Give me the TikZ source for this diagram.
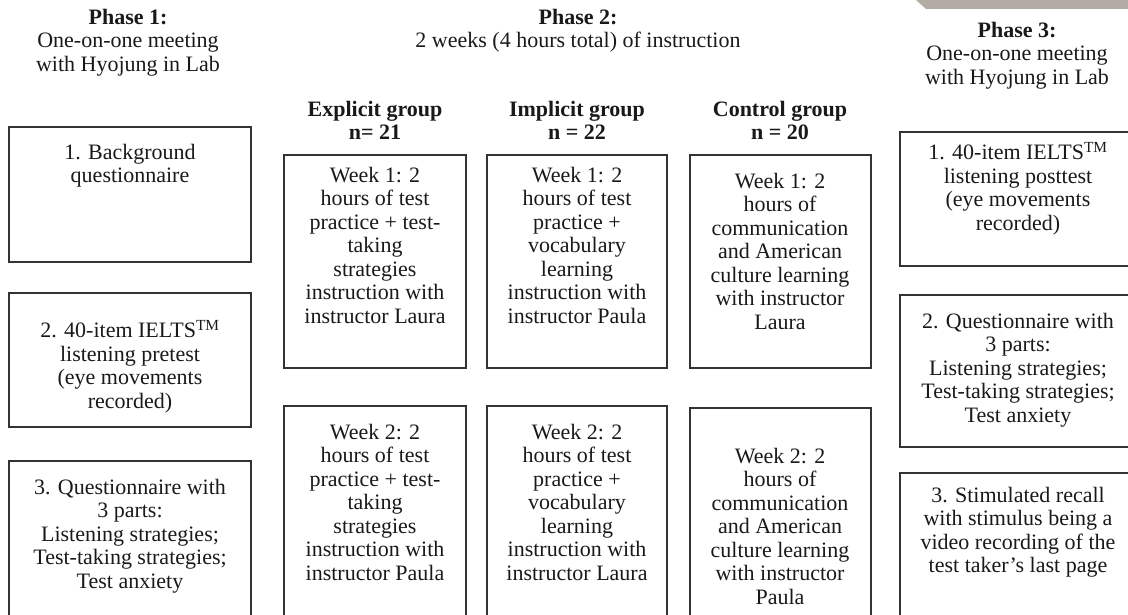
\documentclass[tikz,border=0pt]{standalone}
\usepackage{fontspec}
\setmainfont{Liberation Serif}
\begin{document}
\begin{tikzpicture}[x=1pt,y=-1pt,
  every node/.style={inner sep=0pt, outer sep=0pt},
  frame/.style={draw=black!80, line width=1.3pt, anchor=north west},
  txt/.style={align=center, anchor=north, text=black!90,
    font=\fontsize{22}{23.5}\selectfont},
  head/.style={txt, font=\fontsize{22}{23.5}\selectfont\bfseries}]
\useasboundingbox (0,0) rectangle (1128,615);
\begin{scope}
\clip (0,0) rectangle (1128,615);
% grey strip at the top right corner
\fill[fill={rgb,255:red,178;green,172;blue,165}] (916,0) -- (1128,0) -- (1128,9) -- (926,9) -- cycle;

% column headings
\node[txt] (h1) at (128,9) {\textbf{Phase 1:}\\One-on-one meeting\\with Hyojung in Lab};
\node[txt] (h2) at (578,9) {\textbf{Phase 2:}\\2 weeks (4 hours total) of instruction};
\node[txt] (h3) at (1017,22) {\textbf{Phase 3:}\\One-on-one meeting\\with Hyojung in Lab};
\node[head] (ge) at (375,101) {Explicit group\\n= 21};
\node[head] (gi) at (577,101) {Implicit group\\n = 22};
\node[head] (gc) at (780,101) {Control group\\n = 20};

% phase 1 boxes
\node[frame, minimum width=242, minimum height=135] (a1) at (9,127) {};
\node[txt] (ta1) at (130,144) {1. Background\\questionnaire};
\node[frame, minimum width=242, minimum height=134] (a2) at (9,293) {};
\node[txt] (ta2) at (130,320) {2. 40-item IELTS\textsuperscript{TM}\\listening pretest\\(eye movements\\recorded)};
\node[frame, minimum width=242, minimum height=170] (a3) at (9,461) {};
\node[txt] (ta3) at (130,479) {3. Questionnaire with\\3 parts:\\Listening strategies;\\Test-taking strategies;\\Test anxiety};

% phase 2: explicit group
\node[frame, minimum width=182, minimum height=213] (e1) at (284,155) {};
\node[txt] (te1) at (375,167) {Week 1: 2\\hours of test\\practice + test-\\taking\\strategies\\instruction with\\instructor Laura};
\node[frame, minimum width=182, minimum height=230] (e2) at (284,406) {};
\node[txt] (te2) at (375,424) {Week 2: 2\\hours of test\\practice + test-\\taking\\strategies\\instruction with\\instructor Paula};

% phase 2: implicit group
\node[frame, minimum width=180, minimum height=213] (i1) at (487,155) {};
\node[txt] (ti1) at (577,167) {Week 1: 2\\hours of test\\practice +\\vocabulary\\learning\\instruction with\\instructor Paula};
\node[frame, minimum width=180, minimum height=230] (i2) at (487,406) {};
\node[txt] (ti2) at (577,424) {Week 2: 2\\hours of test\\practice +\\vocabulary\\learning\\instruction with\\instructor Laura};

% phase 2: control group
\node[frame, minimum width=181, minimum height=213] (c1) at (690,155) {};
\node[txt] (tc1) at (780,173) {Week 1: 2\\hours of\\communication\\and American\\culture learning\\with instructor\\Laura};
\node[frame, minimum width=181, minimum height=230] (c2) at (690,408) {};
\node[txt] (tc2) at (780,448) {Week 2: 2\\hours of\\communication\\and American\\culture learning\\with instructor\\Paula};

% phase 3 boxes
\node[frame, minimum width=240, minimum height=134] (b1) at (900,132) {};
\node[txt] (tb1) at (1018,142) {1. 40-item IELTS\textsuperscript{TM}\\listening posttest\\(eye movements\\recorded)};
\node[frame, minimum width=240, minimum height=152] (b2) at (900,295) {};
\node[txt] (tb2) at (1018,313) {2. Questionnaire with\\3 parts:\\Listening strategies;\\Test-taking strategies;\\Test anxiety};
\node[frame, minimum width=240, minimum height=170] (b3) at (900,473) {};
\node[txt] (tb3) at (1018,487) {3. Stimulated recall\\with stimulus being a\\video recording of the\\test taker’s last page};
\end{scope}
\end{tikzpicture}
\end{document}
